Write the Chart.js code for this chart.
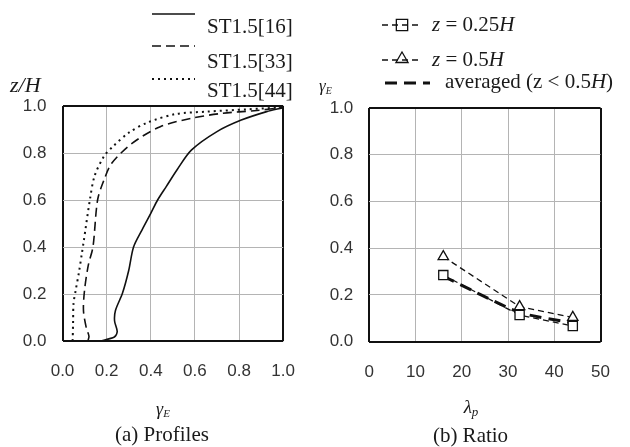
<!DOCTYPE html>
<html>
<head>
<meta charset="utf-8">
<script src="https://cdn.jsdelivr.net/npm/chart.js@4.4.0/dist/chart.umd.min.js"></script>
<style>
  body { margin: 0; background: #fff; }
  #wrap { position: relative; width: 630px; height: 447px; }
  .box { position: absolute; top: 0; width: 315px; height: 447px; }
</style>
</head>
<body>
<div id="wrap">
  <div class="box" style="left:0"><canvas id="chartProfiles" width="315" height="447"></canvas></div>
  <div class="box" style="left:315px"><canvas id="chartRatio" width="315" height="447"></canvas></div>
</div>
<script>
// (a) profiles, gamma_E against z/H
const st16Gamma = [0.17, 0.235, 0.248, 0.236, 0.24, 0.272, 0.30, 0.322, 0.36, 0.40, 0.431, 0.47, 0.52, 0.585, 0.70, 0.81, 0.925, 0.995];
const st16Z     = [0.0, 0.017, 0.04, 0.085, 0.13, 0.204, 0.30, 0.40, 0.472, 0.543, 0.60, 0.657, 0.73, 0.813, 0.891, 0.94, 0.976, 0.992];
const st33Gamma = [0.115, 0.12, 0.108, 0.095, 0.10, 0.117, 0.138, 0.159, 0.188, 0.223, 0.315, 0.443, 0.585, 0.726, 0.869, 0.995];
const st33Z     = [0.0, 0.02, 0.055, 0.13, 0.217, 0.323, 0.40, 0.60, 0.685, 0.756, 0.841, 0.912, 0.948, 0.969, 0.98, 0.993];
const st44Gamma = [0.046, 0.048, 0.05, 0.06, 0.074, 0.088, 0.095, 0.124, 0.145, 0.188, 0.23, 0.30, 0.386, 0.514, 0.656, 0.84, 0.98];
const st44Z     = [0.0, 0.08, 0.16, 0.217, 0.289, 0.374, 0.417, 0.60, 0.701, 0.786, 0.829, 0.886, 0.93, 0.966, 0.976, 0.986, 0.993];
const profileTicks = [0, 0.2, 0.4, 0.6, 0.8, 1.0];

// (b) ratio against lambda_p
const lambdaP = [16, 32.5, 44];
const gammaQuarterH = [0.285, 0.114, 0.067];
const gammaHalfH = [0.364, 0.15, 0.104];
const gammaAveraged = [0.28, 0.125, 0.08];
const lambdaTicks = [0, 10, 20, 30, 40, 50];
const ratioTicks = [0, 0.2, 0.4, 0.6, 0.8, 1.0];

const serif = '"Liberation Serif", "Times New Roman", serif';
const sans = '"Liberation Sans", Arial, sans-serif';

function pts(xs, ys) { return xs.map((x, i) => ({ x: x, y: ys[i] })); }

function gridColor(c) {
  const n = c.scale.ticks.length;
  return (c.index === 0 || c.index === n - 1) ? '#111' : '#b4b4b4';
}
function gridWidth(c) {
  const n = c.scale.ticks.length;
  return (c.index === 0 || c.index === n - 1) ? 2 : 1;
}

function axis(vals, fmt, size, pad) {
  return {
    type: 'linear',
    min: vals[0], max: vals[vals.length - 1],
    afterBuildTicks: s => { s.ticks = vals.map(v => ({ value: v })); },
    afterFit: s => { if (s.isHorizontal()) s.height = size; else s.width = size; },
    ticks: { callback: fmt, color: '#333', padding: pad, font: { family: sans, size: 17 } },
    grid: { color: gridColor, lineWidth: gridWidth, drawTicks: false },
    border: { display: false }
  };
}

// rich text: parts of [text, italic, size, dy]
function rich(ctx, parts, x, y, align) {
  let w = 0;
  parts.forEach(p => { ctx.font = (p[1] ? 'italic ' : '') + p[2] + 'px ' + serif; w += ctx.measureText(p[0]).width; });
  let cx = align === 'center' ? x - w / 2 : x;
  ctx.textBaseline = 'middle';
  ctx.textAlign = 'left';
  ctx.fillStyle = '#1a1a1a';
  parts.forEach(p => {
    ctx.font = (p[1] ? 'italic ' : '') + p[2] + 'px ' + serif;
    ctx.fillText(p[0], cx, y + (p[3] || 0));
    cx += ctx.measureText(p[0]).width;
  });
}

function sampleLine(ctx, ds, x1, x2, y) {
  ctx.save();
  ctx.strokeStyle = '#111';
  ctx.lineWidth = ds.borderWidth;
  ctx.setLineDash(ds.borderDash || []);
  ctx.beginPath(); ctx.moveTo(x1, y); ctx.lineTo(x2, y); ctx.stroke();
  ctx.restore();
}

function marker(ctx, style, x, y, r) {
  ctx.save();
  ctx.strokeStyle = '#111';
  ctx.lineWidth = 1.3;
  ctx.beginPath();
  if (style === 'rect') {
    const s = r * Math.SQRT1_2;
    ctx.rect(x - s, y - s, 2 * s, 2 * s);
  } else {
    ctx.moveTo(x, y - r);
    ctx.lineTo(x + r * 0.866, y + r * 0.5);
    ctx.lineTo(x - r * 0.866, y + r * 0.5);
    ctx.closePath();
  }
  ctx.stroke();
  ctx.restore();
}

const profileText = {
  id: 'profileText',
  afterDraw(chart) {
    const ctx = chart.ctx;
    const ds = chart.data.datasets;
    const rows = [[14, 27, 'ST1.5[16]'], [46, 62, 'ST1.5[33]'], [79, 91, 'ST1.5[44]']];
    rows.forEach((r, i) => {
      sampleLine(ctx, ds[i], 152, 195, r[0]);
      rich(ctx, [[r[2], false, 21]], 207, r[1], 'left');
    });
    rich(ctx, [['z/H', true, 22]], 10, 86, 'left');
    rich(ctx, [['γ', true, 18], ['E', true, 11, 4]], 163, 410, 'center');
    rich(ctx, [['(a) Profiles', false, 21]], 162, 435, 'center');
  }
};

const ratioText = {
  id: 'ratioText',
  afterDraw(chart) {
    const ctx = chart.ctx;
    const ds = chart.data.datasets;
    sampleLine(ctx, ds[0], 67, 107, 25);
    marker(ctx, 'rect', 87, 25, 8);
    rich(ctx, [['z', true, 21], [' = 0.25', false, 21], ['H', true, 21]], 117, 25, 'left');
    sampleLine(ctx, ds[1], 67, 107, 60);
    marker(ctx, 'triangle', 87, 59, 7);
    rich(ctx, [['z', true, 21], [' = 0.5', false, 21], ['H', true, 21]], 117, 60, 'left');
    sampleLine(ctx, ds[2], 70, 115, 83);
    rich(ctx, [['averaged (z < 0.5', false, 21], ['H', true, 21], [')', false, 21]], 130, 82, 'left');
    rich(ctx, [['γ', true, 17], ['E', true, 10, 4]], 4, 87, 'left');
    rich(ctx, [['λ', true, 19], ['p', true, 13, 5]], 156, 408, 'center');
    rich(ctx, [['(b) Ratio', false, 21]], 155.5, 436, 'center');
  }
};

const fmt1 = v => Number(v).toFixed(1);
const fmt0 = v => String(v);

new Chart(document.getElementById('chartProfiles'), {
  type: 'scatter',
  data: {
    datasets: [
      { label: 'ST1.5[16]', data: pts(st16Gamma, st16Z), borderColor: '#111', borderWidth: 1.6, borderDash: [], showLine: true, pointRadius: 0, tension: 0.3 },
      { label: 'ST1.5[33]', data: pts(st33Gamma, st33Z), borderColor: '#111', borderWidth: 1.6, borderDash: [9, 5], showLine: true, pointRadius: 0, tension: 0.3 },
      { label: 'ST1.5[44]', data: pts(st44Gamma, st44Z), borderColor: '#111', borderWidth: 2, borderDash: [2, 4], showLine: true, pointRadius: 0, tension: 0.3 }
    ]
  },
  options: {
    responsive: false,
    animation: false,
    layout: { padding: { left: 0, right: 18.5, top: 106, bottom: 0 } },
    plugins: { legend: { display: false }, tooltip: { enabled: false } },
    scales: {
      x: axis(profileTicks, fmt1, 106, 20),
      y: axis(profileTicks, fmt1, 62.5, 16)
    }
  },
  plugins: [profileText]
});

new Chart(document.getElementById('chartRatio'), {
  type: 'scatter',
  data: {
    datasets: [
      { label: 'z = 0.25H', data: pts(lambdaP, gammaQuarterH), borderColor: '#111', borderWidth: 1.3, borderDash: [6, 4], showLine: true,
        pointStyle: 'rect', pointRadius: 6.5, pointBorderWidth: 1.3, pointBackgroundColor: '#fff', pointBorderColor: '#111' },
      { label: 'z = 0.5H', data: pts(lambdaP, gammaHalfH), borderColor: '#111', borderWidth: 1.3, borderDash: [6, 4], showLine: true,
        pointStyle: 'triangle', pointRadius: 6, pointBorderWidth: 1.3, pointBackgroundColor: '#fff', pointBorderColor: '#111' },
      { label: 'averaged (z < 0.5H)', data: pts(lambdaP, gammaAveraged), borderColor: '#111', borderWidth: 3, borderDash: [12, 7], showLine: true,
        pointRadius: 0, tension: 0.2 }
    ]
  },
  options: {
    responsive: false,
    animation: false,
    layout: { padding: { left: 0, right: 22, top: 108, bottom: 0 } },
    plugins: { legend: { display: false }, tooltip: { enabled: false } },
    scales: {
      x: axis(lambdaTicks, fmt0, 105.3, 20),
      y: axis(ratioTicks, fmt1, 54.3, 16)
    }
  },
  plugins: [ratioText]
});
</script>
</body>
</html>
